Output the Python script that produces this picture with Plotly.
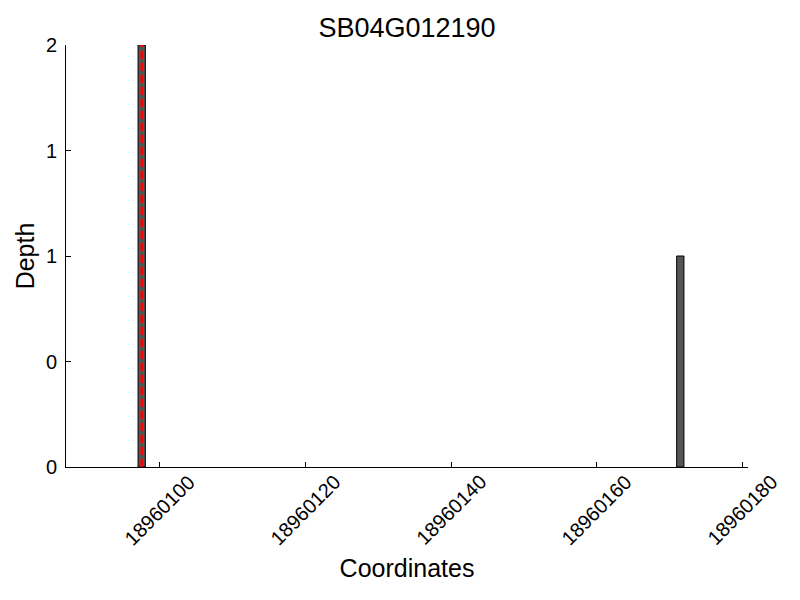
"""Read depth at a gene locus, drawn as bars with the site of interest marked."""

import plotly.graph_objects as go

GENE = "SB04G012190"
POSITIONS = [18960097, 18960171]
DEPTHS = [2, 1]
MARK_POS = 18960097.5
X_TICKS = [18960100, 18960120, 18960140, 18960160, 18960180]
Y_TICKS = [0, 0.5, 1, 1.5, 2]
Y_TICK_LABELS = ["0", "0", "1", "1", "2"]

FONT = "Liberation Sans, Arial, sans-serif"
BAR_COLOR = "#555555"

fig = go.Figure()
fig.add_trace(go.Bar(
    x=POSITIONS,
    y=DEPTHS,
    width=1,
    offset=0,
    marker=dict(color=BAR_COLOR, line=dict(color="black", width=1)),
    showlegend=False,
))
fig.add_vline(x=MARK_POS, line=dict(color="#ff0000", width=2.5, dash="8px,4px"))

# matplotlib-style rotated labels, centred on each tick
for t in X_TICKS:
    fig.add_annotation(
        x=t, xref="x", y=0, yref="paper",
        text=str(t), textangle=-45, showarrow=False,
        xanchor="center", yanchor="middle", yshift=-43,
        font=dict(size=20, color="black", family=FONT),
    )

# the page body adds an 8px offset, so margins are set 8px smaller on top/left
fig.update_layout(
    title=dict(text=GENE, x=0.5, xref="paper", y=1 - 20 / 600, yanchor="middle",
               font=dict(size=27, color="black", family=FONT)),
    width=800,
    height=600,
    margin=dict(l=58, r=60, t=37, b=141),
    plot_bgcolor="white",
    paper_bgcolor="white",
    font=dict(family=FONT, color="black", size=20),
    xaxis=dict(
        range=[18960087.1, 18960180.8],
        tickvals=X_TICKS,
        showticklabels=False,
        ticks="inside", ticklen=5, tickcolor="black",
        showline=True, linecolor="black", linewidth=1, mirror=False,
        showgrid=False, zeroline=False,
        title=dict(text="Coordinates", standoff=92, font=dict(size=25)),
    ),
    yaxis=dict(
        range=[0, 2],
        tickvals=Y_TICKS,
        ticktext=Y_TICK_LABELS,
        ticks="inside", ticklen=5, tickcolor="black",
        ticklabelstandoff=4,
        showline=True, linecolor="black", linewidth=1, mirror=False,
        showgrid=False, zeroline=False,
        title=dict(text="Depth", standoff=4, font=dict(size=25)),
    ),
)

fig.write_html("out.html")
